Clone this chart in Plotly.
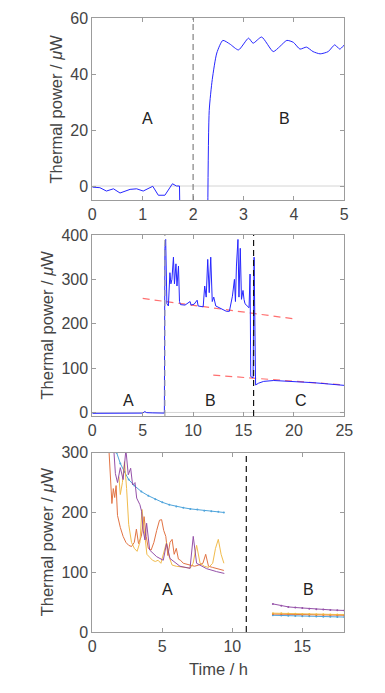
import plotly.graph_objects as go

# ---------------- data ----------------
# Panel 1
p1_a_time = [0, 0.15, 0.28, 0.42, 0.55, 0.75, 0.88, 1.01, 1.2, 1.31, 1.44, 1.59, 1.67, 1.73, 1.74]
p1_a_power = [-0.4, -0.6, -1.8, -1.0, -2.5, -1.2, -1.0, -1.8, -0.1, -3.3, -3.3, 0.8, 0.0, 0.0, -12]
p1_b_time = [2.29, 2.32, 2.38, 2.47, 2.59, 2.73, 2.9, 3.1, 3.19, 3.36, 3.59, 3.72, 3.86, 3.99,
             4.12, 4.25, 4.38, 4.52, 4.68, 4.81, 4.91, 5.0]
p1_b_power = [-12, 27, 38, 47.5, 52, 50.7, 48.6, 52.8, 51, 53.2, 48, 49.8, 52, 51.3,
              48.9, 49.6, 48, 47.2, 48, 50.4, 48.9, 50.4]

# Panel 2
p2_time = [0, 1, 2, 3, 4, 5, 5.2, 5.4, 6, 7, 7.15, 7.2, 7.28, 7.4, 7.55, 7.7, 7.8, 7.9, 8.0, 8.05,
           8.15, 8.3, 8.4, 8.55, 8.65, 8.75, 9.2, 9.7, 9.8, 10.1, 10.4, 10.5, 11.0, 11.15, 11.3,
           11.45, 11.6, 11.75, 11.9, 12.05, 12.25, 12.6, 13.0, 13.3, 13.6, 13.9, 14.1, 14.2, 14.3,
           14.45, 14.55, 14.68, 14.8, 14.95, 15.05, 15.15, 15.55, 15.65, 15.72, 15.95, 16.05, 16.2,
           16.5, 17.0, 18.0, 19, 20, 21, 22, 23, 24, 25]
p2_power = [-2, -2, -1.5, -2, -2, -1.5, 2, -0.5, -1, -1.5, -1.5, 370, 390, 245, 240, 315, 290, 300,
            345, 350, 290, 335, 285, 330, 250, 243, 242, 250, 242, 244, 253, 240, 238, 285, 260,
            345, 270, 350, 250, 260, 240, 236, 232, 228, 228, 262, 300, 250, 330, 390, 260, 370,
            255, 275, 255, 245, 236, 312, 81, 78, 350, 62, 66, 70, 72, 71, 69, 68, 67, 65, 63, 61]
p2_fit1_time = [5, 20]
p2_fit1_power = [257, 211]
p2_fit2_time = [12, 25]
p2_fit2_power = [84, 62]

# Panel 3 (four samples, phase A and phase B)
p3_blue_a_time = [1.74, 2.0, 2.3, 2.6, 3.0, 3.5, 4.0, 4.5, 5.0, 5.5, 6.0, 6.5, 7.0, 7.5, 8.0, 8.5, 9.0, 9.4]
p3_blue_a_power = [300, 282, 268, 255, 245, 235, 228, 222, 217, 213, 210, 208, 206, 205, 203, 202, 201, 200]
p3_orange_a_time = [1.2, 1.3, 1.4, 1.5, 1.6, 1.7, 1.8, 2.0, 2.2, 2.4, 2.6, 2.8, 3.0, 3.15, 3.3, 3.5,
                    3.7, 3.85, 4.0, 4.2, 4.4, 4.6, 4.8, 4.95, 5.1, 5.25, 5.4, 5.55, 5.7, 5.85, 6.0,
                    6.15, 6.3, 6.5, 6.8, 7.0, 7.3, 7.6, 7.9, 8.1, 8.3, 8.6, 9.0, 9.4]
p3_orange_a_power = [300, 260, 215, 240, 225, 245, 195, 175, 160, 150, 145, 143, 150, 172, 148, 160,
                     193, 160, 140, 137, 150, 170, 187, 188, 170, 160, 128, 150, 155, 130, 140,
                     122, 120, 115, 113, 112, 110, 112, 115, 130, 110, 108, 105, 103]
p3_yellow_a_time = [1.9, 2.0, 2.15, 2.3, 2.45, 2.6, 2.8, 3.0, 3.2, 3.4, 3.55, 3.7, 3.9, 4.1, 4.3, 4.5,
                    4.7, 4.9, 5.1, 5.3, 5.5, 5.7, 6.0, 6.5, 7.0, 7.2, 7.45, 7.7, 8.0, 8.3, 8.6, 8.8,
                    9.0, 9.2, 9.4]
p3_yellow_a_power = [260, 230, 250, 285, 240, 180, 150, 140, 135, 150, 205, 170, 130, 125, 120, 118,
                     120, 115, 135, 150, 125, 112, 110, 108, 107, 115, 145, 115, 110, 108, 115, 140,
                     155, 130, 115]
p3_purple_a_time = [1.55, 1.65, 1.8, 2.0, 2.2, 2.4, 2.57, 2.74, 2.88, 3.05, 3.17, 3.4, 3.52, 3.64,
                    3.76, 3.88, 4.1, 4.6, 5.07, 5.3, 5.55, 6.26, 6.98, 7.21, 7.45, 8.16, 8.88, 9.43]
p3_purple_a_power = [300, 265, 250, 275, 255, 305, 263, 274, 246, 250, 224, 213, 202, 169,
                     154, 182, 137, 126, 120, 148, 123, 110, 106.5, 160, 115, 106, 101, 98]

p3_b_time = [12.9, 13.5, 14.0, 14.5, 15.0, 15.5, 16.0, 16.5, 17.0, 17.5, 18.0]
p3_blue_b_power = [28, 27.5, 27, 26.8, 26.5, 26.2, 26, 25.7, 25.5, 25.2, 25]
p3_orange_b_power = [30, 29.8, 29.6, 29.3, 29, 28.8, 28.6, 28.4, 28.2, 28.1, 28]
p3_yellow_b_power = [31.5, 31.2, 30.8, 30.5, 30.2, 30, 29.8, 29.6, 29.4, 29.2, 29]
p3_purple_b_power = [47, 44, 42, 41, 40, 39, 38, 37.5, 37, 36.5, 36]

# tick values / ranges
p1_xticks = [0, 1, 2, 3, 4, 5]
p1_yticks = [0, 20, 40, 60]
p2_xticks = [0, 5, 10, 15, 20, 25]
p2_yticks = [0, 100, 200, 300, 400]
p3_xticks = [0, 5, 10, 15]
p3_yticks = [0, 100, 200, 300]

# phase boundaries
p1_boundaries = [2]
p2_boundaries = [7.2, 16]
p3_boundaries = [11]

# phase labels (label, x, y)
p1_labels = [("A", 1.1, 24), ("B", 3.82, 24)]
p2_labels = [("A", 3.6, 27), ("B", 11.7, 27), ("C", 20.7, 27)]
p3_labels = [("A", 5.4, 71), ("B", 15.45, 71)]

# ---------------- figure ----------------
OFF = 8                       # page body margin
W, H = 385 - OFF, 693 - OFF   # figure size that fits the window
FONT = "Liberation Sans"
BLUE = "#2626ff"
C_BLUE = "#3d9bd8"
C_ORANGE = "#df6530"
C_YELLOW = "#f0b53a"
C_PURPLE = "#8a3fa0"


def px(v):      # page x pixel -> paper fraction
    return (v - OFF) / W


def py(v):      # page y pixel -> paper fraction
    return 1 - (v - OFF) / H


fig = go.Figure()

# panel 1
fig.add_trace(go.Scatter(x=p1_a_time, y=p1_a_power, mode="lines",
                         line=dict(color=BLUE, width=1), xaxis="x", yaxis="y"))
fig.add_trace(go.Scatter(x=p1_b_time, y=p1_b_power, mode="lines",
                         line=dict(color=BLUE, width=1, shape="spline", smoothing=0.6),
                         xaxis="x", yaxis="y"))
# panel 2
fig.add_trace(go.Scatter(x=p2_fit1_time, y=p2_fit1_power, mode="lines",
                         line=dict(color="#ff7070", width=1.2, dash="7px,5px"), xaxis="x2", yaxis="y2"))
fig.add_trace(go.Scatter(x=p2_fit2_time, y=p2_fit2_power, mode="lines",
                         line=dict(color="#ff7070", width=1.2, dash="7px,5px"), xaxis="x2", yaxis="y2"))
fig.add_trace(go.Scatter(x=p2_time, y=p2_power, mode="lines",
                         line=dict(color=BLUE, width=1), xaxis="x2", yaxis="y2"))
# panel 3
for xs, ys, c, mk in [
    (p3_blue_a_time, p3_blue_a_power, C_BLUE, True),
    (p3_orange_a_time, p3_orange_a_power, C_ORANGE, False),
    (p3_yellow_a_time, p3_yellow_a_power, C_YELLOW, False),
    (p3_purple_a_time, p3_purple_a_power, C_PURPLE, False),
    (p3_b_time, p3_blue_b_power, C_BLUE, True),
    (p3_b_time, p3_orange_b_power, C_ORANGE, True),
    (p3_b_time, p3_yellow_b_power, C_YELLOW, True),
    (p3_b_time, p3_purple_b_power, C_PURPLE, True),
]:
    fig.add_trace(go.Scatter(x=xs, y=ys, mode="lines+markers" if mk else "lines",
                             line=dict(color=c, width=1),
                             marker=dict(size=2, color=c),
                             opacity=0.9, xaxis="x3", yaxis="y3"))

xdom = [px(92.3), px(344.3)]
ydoms = [
    [py(200), py(18)],
    [py(416), py(235)],
    [py(632), py(452.7)],
]

axis_common = dict(showline=True, mirror="ticks", linecolor="#9c9c9c", linewidth=1,
                   ticks="inside", ticklen=4, tickcolor="#9c9c9c", showgrid=False,
                   zeroline=False, tickfont=dict(family=FONT, size=16, color="#444444"),
                   automargin=False)

fig.update_layout(
    width=W, height=H, margin=dict(l=0, r=0, t=0, b=0),
    paper_bgcolor="white", plot_bgcolor="white", showlegend=False,
    xaxis=dict(domain=xdom, anchor="y", range=[0, 5], tickvals=p1_xticks, **axis_common),
    yaxis=dict(domain=ydoms[0], anchor="x", range=[-5, 60], tickvals=p1_yticks, **axis_common),
    xaxis2=dict(domain=xdom, anchor="y2", range=[0, 25], tickvals=p2_xticks, **axis_common),
    yaxis2=dict(domain=ydoms[1], anchor="x2", range=[-8, 400], tickvals=p2_yticks, **axis_common),
    xaxis3=dict(domain=xdom, anchor="y3", range=[0, 18], tickvals=p3_xticks, **axis_common),
    yaxis3=dict(domain=ydoms[2], anchor="x3", range=[0, 300], tickvals=p3_yticks, **axis_common),
)

shapes = []
# zero lines
for xr, yr, xmax in [("x", "y", 5), ("x2", "y2", 25)]:
    shapes.append(dict(type="line", xref=xr, yref=yr, x0=0, x1=xmax, y0=0, y1=0,
                       line=dict(color="#d4d4d4", width=1), layer="below"))
for b in p1_boundaries:
    shapes.append(dict(type="line", xref="x", yref="y domain", x0=b, x1=b, y0=0, y1=1,
                       line=dict(color="#808080", width=1.2, dash="6px,4px")))
shapes.append(dict(type="line", xref="x2", yref="y2 domain", x0=p2_boundaries[0], x1=p2_boundaries[0],
                   y0=0, y1=1, line=dict(color="#a0a0a0", width=1.2, dash="6px,4px")))
shapes.append(dict(type="line", xref="x2", yref="y2 domain", x0=p2_boundaries[1], x1=p2_boundaries[1],
                   y0=0, y1=1, line=dict(color="#111111", width=1.2, dash="6px,4px")))
for b in p3_boundaries:
    shapes.append(dict(type="line", xref="x3", yref="y3 domain", x0=b, x1=b, y0=0, y1=1,
                       line=dict(color="#111111", width=1.2, dash="6px,4px")))
fig.update_layout(shapes=shapes)

ann = []
for labels, xr, yr in [(p1_labels, "x", "y"), (p2_labels, "x2", "y2"), (p3_labels, "x3", "y3")]:
    for t, lx, ly in labels:
        ann.append(dict(text=t, x=lx, y=ly, xref=xr, yref=yr, showarrow=False,
                        font=dict(family=FONT, size=16, color="#222222")))
ytitle = "Thermal power / <i>μ</i>W"
for (d, xc) in zip(ydoms, [55.5, 47, 47]):
    ann.append(dict(text=ytitle, x=px(xc), y=(d[0] + d[1]) / 2, xref="paper", yref="paper",
                    textangle=-90, showarrow=False, xanchor="center", yanchor="middle",
                    font=dict(family=FONT, size=16.5, color="#444444")))
ann.append(dict(text="Time / h", x=(xdom[0] + xdom[1]) / 2, y=py(669), xref="paper", yref="paper",
                showarrow=False, xanchor="center", yanchor="middle",
                font=dict(family=FONT, size=16.5, color="#444444")))
fig.update_layout(annotations=ann)

fig.write_html("out.html")
